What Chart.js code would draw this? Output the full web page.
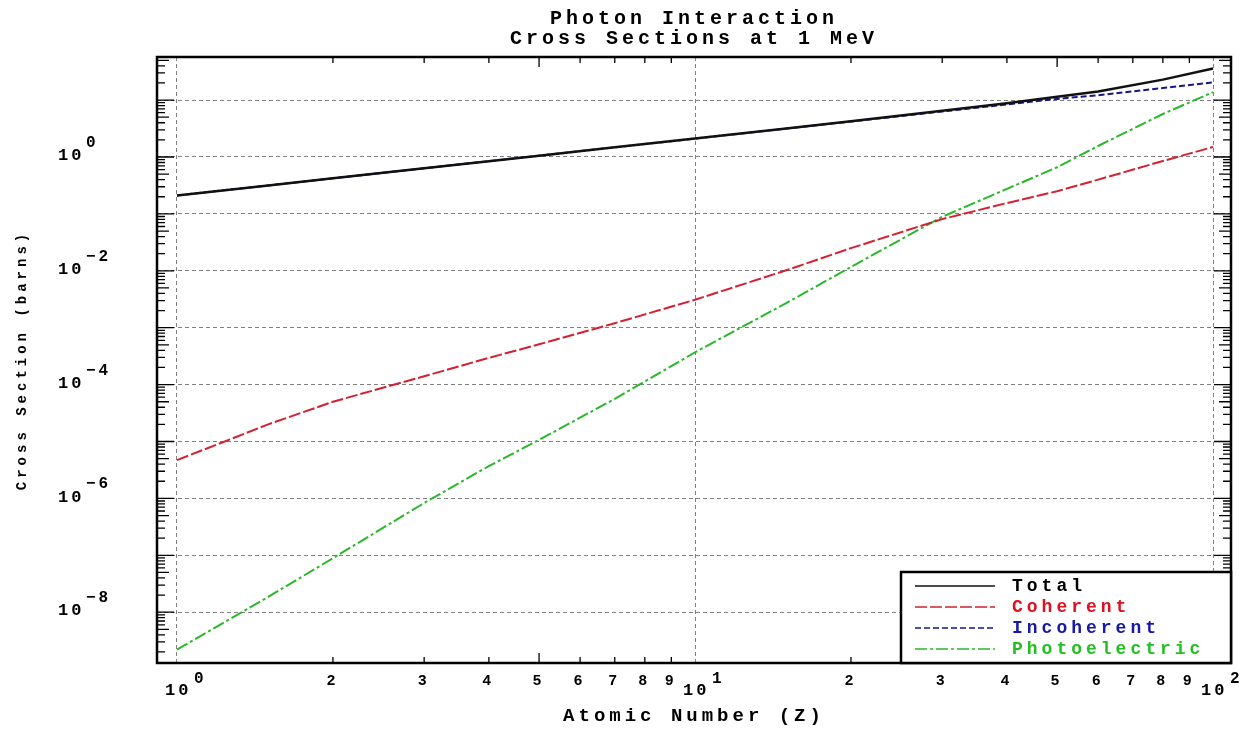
<!DOCTYPE html>
<html>
<head>
<meta charset="utf-8">
<title>Photon Interaction Cross Sections at 1 MeV</title>
<script src="https://cdn.jsdelivr.net/npm/chart.js@4/dist/chart.umd.min.js"></script>
<style>
  html, body { margin: 0; padding: 0; background: #fff; }
  canvas { display: block; }
</style>
</head>
<body>
<canvas id="xsChart" width="1257" height="740"></canvas>
<script>
// atomic number Z of the sampled points
const atomicNumbers = [1, 1.5, 2, 3, 4, 5, 7, 10, 15, 20, 30, 40, 50, 60, 80, 100];

// cross sections in barns
const totalXs        = [0.211, 0.317, 0.422, 0.633, 0.845, 1.056, 1.48, 2.11, 3.18, 4.26, 6.50, 8.80, 11.4, 14.2, 22.9, 35.8];
const coherentXs     = [4.7e-6, 2.0e-5, 5.0e-5, 1.4e-4, 2.95e-4, 5.1e-4, 1.2e-3, 3.1e-3, 1.02e-2, 2.5e-2, 8.1e-2, 0.155, 0.25, 0.40, 0.85, 1.5];
const incoherentXs   = [0.211, 0.317, 0.422, 0.633, 0.844, 1.055, 1.477, 2.11, 3.16, 4.21, 6.3, 8.4, 10.5, 12.2, 16.3, 20.5];
const photoelectricXs = [2.2e-9, 1.86e-8, 8.9e-8, 8.3e-7, 3.7e-6, 1.07e-5, 5.6e-5, 3.7e-4, 2.7e-3, 1.17e-2, 8.9e-2, 0.275, 0.66, 1.56, 5.7, 13.8];

// tick labels
const xTickValues = [1, 2, 3, 4, 5, 6, 7, 8, 9, 10, 20, 30, 40, 50, 60, 70, 80, 90, 100];
const yDecadeExponents = [-8, -7, -6, -5, -4, -3, -2, -1, 0, 1];
const yLabelExponents = [-8, -6, -4, -2, 0];

const MONO = '"Liberation Mono", "DejaVu Sans Mono", monospace';

function toPoints(ys) {
    return atomicNumbers.map((z, i) => ({ x: z, y: ys[i] }));
}
function decadeOf(v) {
    return Math.floor(Math.log10(v) + 1e-9);
}
function mantissaOf(v) {
    return Math.round(v / Math.pow(10, decadeOf(v)));
}

// the original uses a wide plotter font, so spread the letters a bit
const wideText = {
    id: 'wideText',
    beforeUpdate(chart) { chart.ctx.letterSpacing = '4px'; },
    beforeDraw(chart) { chart.ctx.letterSpacing = '4px'; }
};

// plot frame plus the small inside tick marks
const frameTicks = {
    id: 'frameTicks',
    afterDatasetsDraw(chart) {
        const { ctx, chartArea: a, scales: { x, y } } = chart;
        ctx.save();
        ctx.strokeStyle = '#000';
        ctx.lineWidth = 1.3;
        ctx.beginPath();
        xTickValues.forEach(v => {
            const mant = mantissaOf(v);
            if (mant === 1) return;
            const px = x.getPixelForValue(v);
            const len = mant === 5 ? 10 : 6;
            ctx.moveTo(px, a.bottom); ctx.lineTo(px, a.bottom - len);
            ctx.moveTo(px, a.top); ctx.lineTo(px, a.top + len);
        });
        yDecadeExponents.concat([-9]).forEach(e => {
            for (let m = 1; m <= 9; m++) {
                const v = m * Math.pow(10, e);
                if (v < y.min || v > y.max) continue;
                const py = y.getPixelForValue(v);
                const len = m === 1 ? 17 : (m === 5 ? 12 : 8);
                ctx.moveTo(a.left, py); ctx.lineTo(a.left + len, py);
                ctx.moveTo(a.right, py); ctx.lineTo(a.right - len, py);
            }
        });
        ctx.stroke();
        ctx.lineWidth = 2.5;
        ctx.strokeRect(a.left, a.top, a.right - a.left, a.bottom - a.top);
        ctx.restore();
    }
};

// "10" with a raised exponent for the decade labels of both axes
const powerLabels = {
    id: 'powerLabels',
    afterDraw(chart) {
        const { ctx, chartArea: a, scales: { x, y } } = chart;
        ctx.save();
        ctx.fillStyle = '#000';
        ctx.letterSpacing = '3px';
        ctx.textBaseline = 'middle';
        ctx.textAlign = 'left';
        yLabelExponents.forEach(e => {
            const py = y.getPixelForValue(Math.pow(10, e));
            ctx.font = 'bold 17px ' + MONO;
            ctx.fillText('10', 58, py - 1);
            ctx.font = 'bold 16px ' + MONO;
            ctx.fillText(String(e).replace('-', '\u2212'), 86, py - 14);
        });
        xTickValues.filter(v => mantissaOf(v) === 1).forEach(v => {
            const px = x.getPixelForValue(v);
            ctx.font = 'bold 17px ' + MONO;
            ctx.fillText('10', px - 12, a.bottom + 28);
            ctx.font = 'bold 16px ' + MONO;
            ctx.fillText(String(decadeOf(v)), px + 17, a.bottom + 16);
        });
        ctx.restore();
    }
};

// boxed legend in the lower right corner of the plot
const boxLegend = {
    id: 'boxLegend',
    afterDraw(chart) {
        const { ctx, chartArea: a } = chart;
        const w = 330, h = 91, rowH = 21;
        const left = a.right - w, top = a.bottom - h;
        ctx.save();
        ctx.fillStyle = '#fff';
        ctx.fillRect(left, top, w, h);
        ctx.strokeStyle = '#000';
        ctx.lineWidth = 2.5;
        ctx.strokeRect(left, top, w, h);
        ctx.font = 'bold 18px ' + MONO;
        ctx.textBaseline = 'middle';
        ctx.textAlign = 'left';
        chart.data.datasets.forEach((ds, i) => {
            const cy = top + 14 + i * rowH;
            ctx.setLineDash(ds.borderDash || []);
            ctx.strokeStyle = ds.borderColor;
            ctx.lineWidth = 1.5;
            ctx.beginPath();
            ctx.moveTo(left + 14, cy);
            ctx.lineTo(left + 94, cy);
            ctx.stroke();
            ctx.setLineDash([]);
            ctx.fillStyle = ds.textColor;
            ctx.fillText(ds.label, left + 111, cy);
        });
        ctx.restore();
    }
};

document.addEventListener('DOMContentLoaded', function() {
    const ctx = document.getElementById('xsChart').getContext('2d');

    new Chart(ctx, {
        type: 'line',
        data: {
            datasets: [{
                label: 'Total',
                data: toPoints(totalXs),
                borderColor: '#111111',
                textColor: '#000000',
                borderWidth: 2.5
            }, {
                label: 'Coherent',
                data: toPoints(coherentXs),
                borderColor: '#d42030',
                textColor: '#e01020',
                borderDash: [12, 3],
                borderWidth: 2
            }, {
                label: 'Incoherent',
                data: toPoints(incoherentXs),
                borderColor: '#16168c',
                textColor: '#1818a8',
                borderDash: [6, 3],
                borderWidth: 2
            }, {
                label: 'Photoelectric',
                data: toPoints(photoelectricXs),
                borderColor: '#2ab82a',
                textColor: '#22c022',
                borderDash: [12, 3, 3, 3],
                borderWidth: 2
            }]
        },
        options: {
            responsive: false,
            animation: false,
            elements: { point: { radius: 0 }, line: { tension: 0 } },
            layout: { padding: { left: 0, right: 26, top: 0, bottom: 0 } },
            plugins: {
                legend: { display: false },
                tooltip: { enabled: false },
                title: {
                    display: true,
                    fullSize: false,
                    text: ['Photon Interaction', 'Cross Sections at 1 MeV'],
                    color: '#000',
                    font: { family: MONO, size: 20, weight: 'bold', lineHeight: 1.0 },
                    padding: { top: 9, bottom: 8 }
                }
            },
            scales: {
                x: {
                    type: 'logarithmic',
                    min: 0.915,
                    max: 108.3,
                    afterBuildTicks: scale => { scale.ticks = xTickValues.map(v => ({ value: v })); },
                    afterFit: scale => { scale.height = 77; },
                    grid: {
                        drawTicks: false,
                        lineWidth: 1,
                        color: c => {
                            const v = c.tick ? c.tick.value : 0;
                            return [1, 10, 100].includes(v) ? '#808080' : 'rgba(0,0,0,0)';
                        }
                    },
                    border: { display: false, dash: [4, 3] },
                    ticks: {
                        autoSkip: false,
                        maxRotation: 0,
                        padding: 9,
                        color: '#000',
                        font: { family: MONO, size: 15, weight: 'bold' },
                        callback: v => (mantissaOf(v) === 1 ? '' : String(mantissaOf(v)))
                    },
                    title: {
                        display: true,
                        text: 'Atomic Number (Z)',
                        color: '#000',
                        font: { family: MONO, size: 19, weight: 'bold' },
                        padding: { top: 0, bottom: 12 }
                    }
                },
                y: {
                    type: 'logarithmic',
                    min: 1.28e-9,
                    max: 57.2,
                    afterBuildTicks: scale => {
                        scale.ticks = yDecadeExponents.map(e => ({ value: Math.pow(10, e) }));
                    },
                    afterFit: scale => { scale.width = 157; },
                    grid: { drawTicks: false, lineWidth: 1, color: '#808080' },
                    border: { display: false, dash: [4, 3] },
                    ticks: {
                        autoSkip: false,
                        padding: 42,
                        color: '#000',
                        font: { family: MONO, size: 17, weight: 'bold' },
                        callback: () => ''
                    },
                    title: {
                        display: true,
                        text: 'Cross Section (barns)',
                        color: '#000',
                        font: { family: MONO, size: 14, weight: 'bold' },
                        padding: { top: 14, bottom: 0 }
                    }
                }
            }
        },
        plugins: [wideText, frameTicks, powerLabels, boxLegend]
    });
});
</script>
</body>
</html>
